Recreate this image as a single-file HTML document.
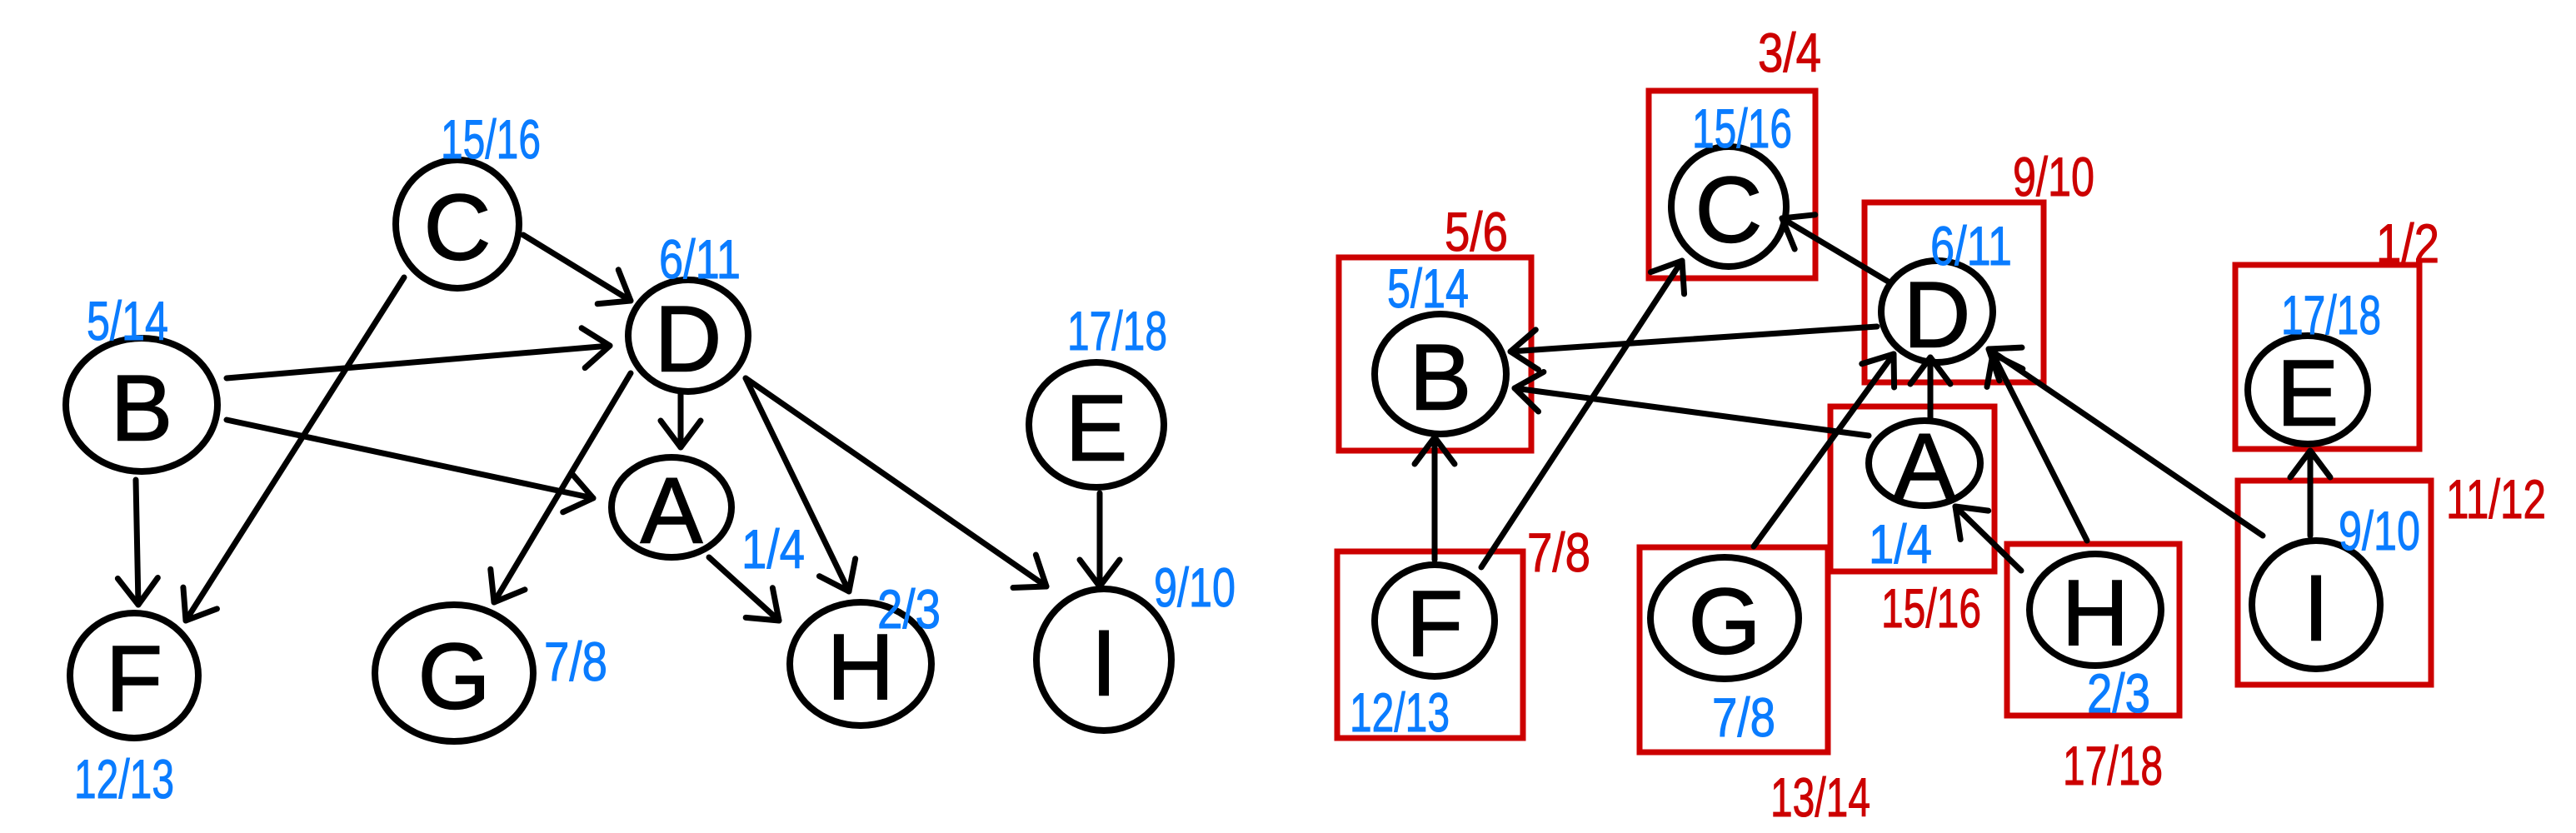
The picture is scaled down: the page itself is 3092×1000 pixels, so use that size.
<!DOCTYPE html>
<html><head><meta charset="utf-8"><style>
html,body{margin:0;padding:0;background:#fff;width:3092px;height:1000px;overflow:hidden}
svg{display:block}
.n{font-family:"Liberation Sans",sans-serif;font-size:112px;fill:#000;stroke:#000;stroke-width:1.5;text-anchor:middle;dominant-baseline:central}
.b{font-family:"Liberation Sans",sans-serif;font-size:66px;fill:#0a7cff;stroke:#0a7cff;stroke-width:1}
.r{font-family:"Liberation Sans",sans-serif;font-size:66px;fill:#cc0000;stroke:#cc0000;stroke-width:1}
</style></head><body>
<svg id="s" width="3092" height="1000" viewBox="0 0 3092 1000" xmlns="http://www.w3.org/2000/svg">
<g id="boxes" fill="none" stroke="#cc0000" stroke-width="7"></g>
<g id="edges" fill="none" stroke="#000" stroke-width="7" stroke-linecap="round" stroke-linejoin="round"></g>
<g id="nodes" fill="none" stroke="#000" stroke-width="8"></g>
<g id="txt"></g>
</svg>
<script>
var NS="http://www.w3.org/2000/svg";
function el(p,t,a,txt){var e=document.createElementNS(NS,t);for(var k in a)e.setAttribute(k,a[k]);if(txt)e.textContent=txt;document.getElementById(p).appendChild(e);}
var nodes=[
["C",549,269,74,77],["D",826,403,72,67],["B",170,486,91,80],["A",806,609,72,60],["E",1316,510,81,75],
["F",161,811,77,75],["G",545,808,95,82],["H",1033,797,85,74],["I",1325,792,81,85],
["C",2075,248,69,72],["D",2325,374,67,61],["B",1729,449,79,72],["A",2310,556,67,51],["E",2770,468,72,65],
["F",1722,745,72,67],["G",2070,742,89,73],["H",2515,732,79,67],["I",2780,726,77,77]];
nodes.forEach(function(n){el("nodes","ellipse",{cx:n[1],cy:n[2],rx:n[3],ry:n[4]});el("txt","text",{"class":"n",x:n[1],y:n[2]+4},n[0]);});
var boxes=[[1979,109,2179,334],[2238,243,2453,459],[1607,309,1838,541],[2197,488,2394,686],[2683,318,2904,539],[1605,662,1828,886],[1968,657,2194,903],[2409,653,2616,859],[2686,577,2918,822]];
boxes.forEach(function(b){el("boxes","rect",{x:b[0],y:b[1],width:b[2]-b[0],height:b[3]-b[1]});});
var edges=[
[628,282,757,361],[485,333,223,745],[272,454,732,415],[272,504,712,598],[163,576,166,726],[817,470,817,537],
[757,448,593,723],[895,454,1019,710],[895,454,1256,704],[851,669,935,745],[1320,592,1320,704],
[2268,339,2139,262],[2253,392,1813,422],[2243,523,1818,466],[1722,672,1722,525],[1778,681,2019,313],
[2317,505,2317,429],[2105,656,2273,425],[2505,649,2392,425],[2716,643,2387,419],[2426,685,2347,608],[2773,643,2773,541]];
edges.forEach(function(e){
 el("edges","line",{x1:e[0],y1:e[1],x2:e[2],y2:e[3]});
 var dx=e[2]-e[0],dy=e[3]-e[1],L=Math.hypot(dx,dy),ux=dx/L,uy=dy/L,h=32,w=24;
 var bx=e[2]-ux*h,by=e[3]-uy*h;
 el("edges","polyline",{points:(bx-uy*w)+","+(by+ux*w)+" "+e[2]+","+e[3]+" "+(bx+uy*w)+","+(by-ux*w)});
});
var blue=[["15/16",529,190],["6/11",791,334],["5/14",104,408],["17/18",1281,420],["1/4",890,682],["2/3",1053,754],["9/10",1385,728],["7/8",653,817],["12/13",89,958],
["15/16",2031,177],["6/11",2317,318],["5/14",1665,369],["17/18",2738,401],["1/4",2243,676],["9/10",2807,660],["12/13",1620,878],["7/8",2055,884],["2/3",2505,855]];
blue.forEach(function(t){el("txt","text",{"class":"b",x:t[1],y:t[2],textLength:t[0].length*22+10,lengthAdjust:"spacingAndGlyphs"},t[0]);});
var red=[["3/4",2110,86],["9/10",2416,235],["5/6",1734,301],["1/2",2852,315],["11/12",2936,622],["7/8",1833,686],["15/16",2258,753],["13/14",2125,980],["17/18",2476,942]];
red.forEach(function(t){el("txt","text",{"class":"r",x:t[1],y:t[2],textLength:t[0].length*22+10,lengthAdjust:"spacingAndGlyphs"},t[0]);});
</script>
</body></html>
